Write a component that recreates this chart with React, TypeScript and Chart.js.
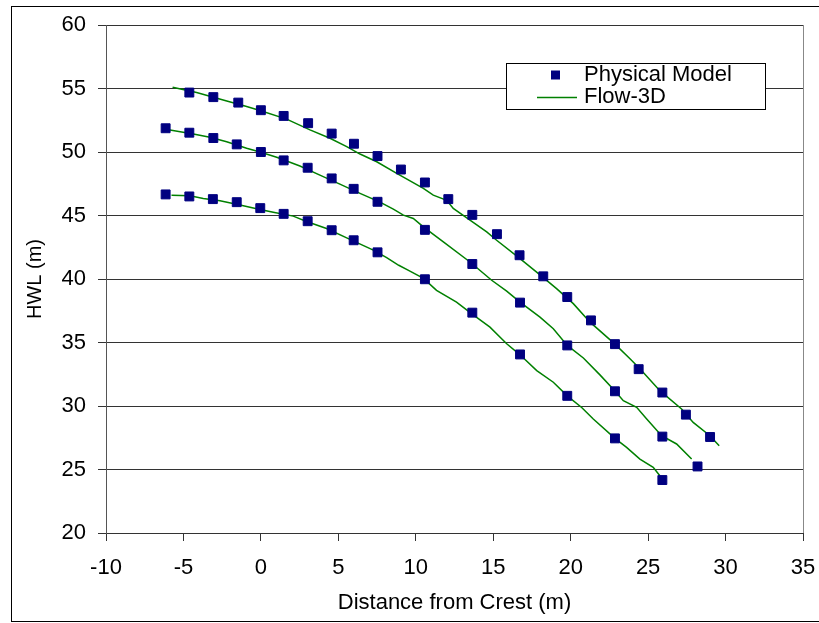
import React, { useEffect, useRef } from 'react';
import { Chart, registerables } from 'chart.js';

Chart.register(...registerables);

// Physical Model (markers)
const physUpperX = [-4.62, -3.07, -1.46, 0.0, 1.47, 3.05, 4.57, 6.01, 7.53, 9.04, 10.59, 12.1, 13.65, 15.24, 16.7, 18.23, 19.78, 21.31, 22.86, 24.39, 25.92, 27.44, 29.0];
const physUpperY = [54.68, 54.32, 53.89, 53.29, 52.84, 52.27, 51.45, 50.65, 49.68, 48.62, 47.6, 46.29, 45.05, 43.53, 41.87, 40.21, 38.58, 36.74, 34.87, 32.9, 31.06, 29.32, 27.56];

const physMiddleX = [-6.15, -4.62, -3.07, -1.56, 0.0, 1.47, 3.02, 4.57, 5.99, 7.53, 10.59, 13.65, 16.73, 19.78, 22.86, 25.92, 28.19];
const physMiddleY = [51.87, 51.52, 51.1, 50.6, 50.0, 49.34, 48.76, 47.92, 47.1, 46.08, 43.87, 41.18, 38.14, 34.77, 31.16, 27.59, 25.24];

const physLowerX = [-6.15, -4.62, -3.1, -1.56, -0.04, 1.47, 3.02, 4.57, 5.99, 7.53, 10.59, 13.65, 16.73, 19.78, 22.86, 25.92];
const physLowerY = [46.66, 46.5, 46.29, 46.05, 45.58, 45.13, 44.55, 43.84, 43.05, 42.1, 39.98, 37.35, 34.06, 30.8, 27.45, 24.17];

// Flow-3D (lines)
const flowUpperX = [-5.7, -4.15, -2.32, -0.92, -0.06, 1.66, 3.17, 4.46, 5.54, 6.4, 7.48, 8.77, 10.49, 11.13, 12.0, 12.42, 13.5, 14.58, 15.22, 16.73, 18.1, 19.09, 20.17, 21.25, 22.86, 23.83, 24.47, 25.76, 27.16, 27.91, 28.99, 29.59];
const flowUpperY = [55.1, 54.68, 54.05, 53.58, 53.27, 52.59, 51.74, 51.08, 50.42, 49.84, 49.23, 48.32, 47.14, 46.6, 46.2, 45.56, 44.63, 43.71, 43.05, 41.6, 40.25, 39.24, 38.06, 36.6, 34.87, 33.72, 32.93, 31.21, 29.77, 28.71, 27.66, 26.87];

const flowMiddleX = [-5.87, -4.36, -3.29, -2.21, -0.92, -0.06, 1.02, 2.52, 3.81, 5.1, 6.4, 7.69, 8.55, 9.2, 9.84, 10.49, 11.78, 13.5, 14.9, 15.87, 16.73, 18.02, 18.88, 19.78, 20.82, 21.89, 22.86, 23.4, 24.26, 24.91, 25.87, 26.84, 27.81];
const flowMiddleY = [51.74, 51.42, 51.16, 50.81, 50.29, 50.0, 49.58, 48.9, 48.18, 47.47, 46.74, 46.05, 45.5, 45.03, 44.77, 44.1, 42.92, 41.34, 39.9, 39.05, 38.18, 37.0, 36.09, 34.77, 33.78, 32.45, 31.18, 30.42, 29.9, 28.98, 27.66, 27.01, 25.82];

const flowLowerX = [-5.77, -4.58, -3.72, -2.64, -1.35, -0.06, 0.8, 2.09, 2.95, 4.24, 5.54, 7.26, 8.12, 8.9, 9.5, 10.5, 11.34, 12.63, 13.6, 14.79, 15.87, 16.73, 17.81, 18.88, 19.78, 20.71, 21.46, 22.86, 23.61, 24.47, 25.33, 25.76];
const flowLowerY = [46.6, 46.56, 46.34, 46.16, 45.82, 45.48, 45.26, 44.95, 44.53, 43.98, 43.24, 42.27, 41.69, 41.08, 40.7, 40.05, 39.11, 38.18, 37.27, 36.21, 34.9, 34.03, 32.79, 31.87, 30.8, 29.88, 28.98, 27.45, 26.74, 25.82, 25.17, 24.51];

const legendLabels = ['Physical Model', 'Flow-3D'];
const xTitle = 'Distance from Crest (m)';
const yTitle = 'HWL (m)';

const MARKER = '#000080';
const LINE = '#008000';
const FONT = 'Liberation Sans, Arial, sans-serif';

const zip = (xs: number[], ys: number[]) => xs.map((x, i) => ({ x, y: ys[i] }));

const decorPlugin = {
  id: 'decor',
  beforeDraw(chart: any) {
    const ctx = chart.ctx;
    ctx.save();
    ctx.fillStyle = '#ffffff';
    ctx.fillRect(0, 0, chart.width, chart.height);
    ctx.strokeStyle = '#000000';
    ctx.lineWidth = 1;
    ctx.strokeRect(11.5, 6.5, chart.width + 10, 615);
    ctx.restore();
  },
  afterDatasetsDraw(chart: any) {
    const ctx = chart.ctx;
    const a = chart.chartArea;
    ctx.save();
    // right border of plot
    ctx.strokeStyle = '#888888';
    ctx.lineWidth = 1;
    ctx.beginPath();
    ctx.moveTo(Math.round(a.right) + 0.5, a.top);
    ctx.lineTo(Math.round(a.right) + 0.5, a.bottom);
    ctx.stroke();
    ctx.restore();
  },
  afterDraw(chart: any) {
    const ctx = chart.ctx;
    ctx.save();
    // legend
    const lx = 506.5, ly = 63.5, lw = 259, lh = 46;
    ctx.fillStyle = '#ffffff';
    ctx.fillRect(lx, ly, lw, lh);
    ctx.strokeStyle = '#000000';
    ctx.lineWidth = 1;
    ctx.strokeRect(lx, ly, lw, lh);
    ctx.fillStyle = MARKER;
    ctx.fillRect(551, 70.5, 9, 9);
    ctx.strokeStyle = LINE;
    ctx.lineWidth = 1.5;
    ctx.beginPath();
    ctx.moveTo(537, 97.5);
    ctx.lineTo(577, 97.5);
    ctx.stroke();
    ctx.fillStyle = '#000000';
    ctx.font = `22px ${FONT}`;
    ctx.textBaseline = 'alphabetic';
    ctx.textAlign = 'left';
    ctx.fillText(legendLabels[0], 584, 81);
    ctx.fillText(legendLabels[1], 584, 103);
    ctx.restore();
  },
};

export default function App() {
  const ref = useRef<HTMLCanvasElement | null>(null);

  useEffect(() => {
    if (!ref.current) return;
    const markerDs = (xs: number[], ys: number[]) => ({
      label: legendLabels[0],
      data: zip(xs, ys),
      showLine: false,
      pointStyle: 'rect',
      pointRadius: 6.3,
      pointBackgroundColor: MARKER,
      pointBorderColor: MARKER,
      pointBorderWidth: 1,
      order: 0,
    });
    const lineDs = (xs: number[], ys: number[]) => ({
      label: legendLabels[1],
      data: zip(xs, ys),
      showLine: true,
      borderColor: LINE,
      borderWidth: 1.5,
      pointRadius: 0,
      tension: 0,
      fill: false,
      order: 1,
    });

    const chart = new Chart(ref.current, {
      type: 'scatter',
      data: {
        datasets: [
          markerDs(physUpperX, physUpperY),
          markerDs(physMiddleX, physMiddleY),
          markerDs(physLowerX, physLowerY),
          lineDs(flowUpperX, flowUpperY),
          lineDs(flowMiddleX, flowMiddleY),
          lineDs(flowLowerX, flowLowerY),
        ] as any,
      },
      options: {
        animation: false,
        responsive: false,
        devicePixelRatio: 1,
        layout: { padding: { left: 12, right: 16, top: 25, bottom: 4 } },
        plugins: {
          legend: { display: false },
          tooltip: { enabled: false },
        },
        scales: {
          x: {
            type: 'linear',
            min: -10,
            max: 35,
            afterFit: (s: any) => {
              s.height = 86;
              s.paddingLeft = 0;
              s.paddingRight = 0;
            },
            ticks: {
              stepSize: 5,
              padding: 14,
              color: '#000000',
              font: { family: FONT, size: 22 },
              maxRotation: 0,
            },
            grid: {
              drawOnChartArea: false,
              drawTicks: true,
              tickLength: 8,
              color: '#333333',
            },
            border: { display: true, color: '#333333', width: 1 },
            title: {
              display: true,
              text: xTitle,
              color: '#000000',
              font: { family: FONT, size: 22 },
              padding: { top: 0, bottom: 3 },
            },
          },
          y: {
            type: 'linear',
            min: 20,
            max: 60,
            afterFit: (s: any) => {
              s.width = 94;
              s.paddingTop = 0;
              s.paddingBottom = 0;
            },
            ticks: {
              stepSize: 5,
              padding: 12,
              color: '#000000',
              font: { family: FONT, size: 22 },
            },
            grid: {
              drawOnChartArea: true,
              drawTicks: true,
              tickLength: 8,
              color: '#333333',
            },
            border: { display: true, color: '#555555', width: 1 },
            title: {
              display: true,
              text: yTitle,
              color: '#000000',
              font: { family: FONT, size: 20 },
              padding: { top: 11, bottom: 0 },
            },
          },
        },
      },
      plugins: [decorPlugin],
    } as any);
    return () => chart.destroy();
  }, []);

  return (
    <div style={{ position: 'absolute', left: 0, top: 0, width: 819, height: 623, background: '#fff' }}>
      <canvas ref={ref} width={819} height={623} style={{ display: 'block', width: 819, height: 623 }} />
    </div>
  );
}
